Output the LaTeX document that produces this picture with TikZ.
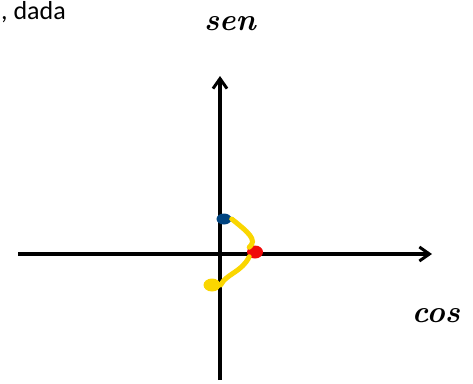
\documentclass[tikz,border=0pt]{standalone}
\usepackage{fontspec}
\newfontfamily\uifont{Carlito}
\usetikzlibrary{arrows.meta,shapes.geometric}
\definecolor{penyellow}{RGB}{250,214,0}
\definecolor{penblue}{RGB}{0,68,128}
\definecolor{penred}{RGB}{240,10,10}

\begin{document}
\begin{tikzpicture}[
      x=1pt,y=-1pt,
      axis/.style={-{Straight Barb[length=10pt,width=14pt,line width=3pt]},line width=3.2pt,black},
      hand/.style={font=\bfseries\itshape\fontsize{31}{31}\selectfont,inner sep=0pt},
      trace/.style={draw=penyellow,line width=5pt,line cap=round},
      dot/.style={ellipse,inner sep=0pt,draw=none}]
    \useasboundingbox (0,0) rectangle (473,383);

    \coordinate (xs) at (18,254);
    \coordinate (xe) at (432,254);
    \coordinate (ys) at (220,380);
    \coordinate (ye) at (220,76);

    \draw[axis] (xs) -- (xe);
    \draw[axis] (ys) -- (ye);

    \node[font=\uifont\fontsize{26}{26}\selectfont,anchor=west,inner sep=0pt] (note) at (1,12) {, dada};
    \node[hand] (sen) at (230,24) {sen};
    \node[hand] (cos) at (436,316) {cos};

    \node[dot,fill=penblue,minimum width=15pt,minimum height=11pt] (blue) at (224,219) {};
    \node[dot,fill=penred,minimum width=16pt,minimum height=13pt] (red) at (255,252) {};
    \node[dot,fill=penyellow,minimum width=17pt,minimum height=13pt] (yel) at (212,285) {};

    \draw[trace] (blue.east) .. controls (248,232) and (258,240) .. (red.north west);
    \draw[trace] (red.south west) .. controls (242,272) and (226,274) .. (yel.east);
  \end{tikzpicture}
\end{document}
